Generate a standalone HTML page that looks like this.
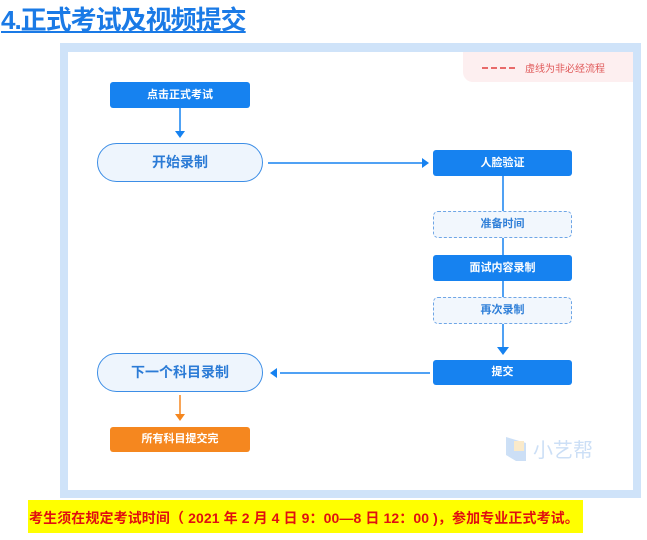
<!DOCTYPE html>
<html><head><meta charset="utf-8"><style>
*{margin:0;padding:0;box-sizing:border-box}
body{width:647px;height:540px;background:#fff;position:relative;overflow:hidden;font-family:"Liberation Sans","Noto Sans CJK SC",sans-serif}
.a{position:absolute}
.title{left:1px;top:4px;font-size:26px;font-weight:bold;color:#1a7ae6;letter-spacing:-1px;line-height:32px;text-decoration:underline;text-decoration-thickness:2px;text-underline-offset:2px}
.frame{left:60px;top:43px;width:581px;height:455px;background:#cfe3f9}
.inner{left:68px;top:52px;width:565px;height:438px;background:#fff}
.legend{left:463px;top:52px;width:170px;height:30px;background:#fdeff0;border-bottom-left-radius:10px}
.box{background:#1682f0;color:#fff;font-size:11px;font-weight:bold;text-align:center;border-radius:3px}
.dash{border:1.5px dashed #6fa6e6;background:#f2f7fd;color:#2f7fd8;font-size:11px;font-weight:bold;text-align:center;border-radius:5px}
.pill{border:1.5px solid #3d8ee6;background:#eef5fd;color:#2b7bd6;font-size:14px;font-weight:bold;text-align:center;border-radius:20px}
</style></head><body>
<div class="a title">4.正式考试及视频提交</div>
<div class="a frame"></div>
<div class="a inner"></div>
<div class="a legend"></div>
<div class="a" style="left:482px;top:67px;width:33px;border-top:2px dashed #e86a6a"></div>
<div class="a" style="left:525px;top:60px;font-size:10px;color:#e05a5a">虚线为非必经流程</div>

<svg class="a" style="left:0;top:0" width="647" height="540">
<g stroke="#1682f0" stroke-width="1.5" fill="none">
<line x1="180" y1="108" x2="180" y2="132"/>
<line x1="268" y1="163" x2="422" y2="163"/>
<line x1="503" y1="176" x2="503" y2="350"/>
<line x1="430" y1="373" x2="280" y2="373"/>
</g>
<g fill="#1682f0">
<polygon points="175,131 185,131 180,138"/>
<polygon points="422,158 422,168 429,163"/>
<polygon points="497,347 509,347 503,355"/>
<polygon points="277,368 277,378 270,373"/>
</g>
<line x1="180" y1="395" x2="180" y2="414" stroke="#f5871f" stroke-width="1.5"/>
<polygon points="175,414 185,414 180,421" fill="#f5871f"/>
<g opacity="0.35">
<path d="M506,437 v18 l10,6 h10 v-18 z" fill="#6fa6e6"/>
<rect x="514" y="441" width="10" height="10" fill="#f2c46a"/>
<text x="533" y="457" font-size="20" fill="#6fa6e6" font-family="Liberation Sans, Noto Sans CJK SC, sans-serif">小艺帮</text>
</g>
</svg>

<div class="a box" style="left:110px;top:82px;width:140px;height:26px;line-height:26px">点击正式考试</div>
<div class="a pill" style="left:97px;top:143px;width:166px;height:39px;line-height:36px">开始录制</div>
<div class="a box" style="left:433px;top:150px;width:139px;height:26px;line-height:26px">人脸验证</div>
<div class="a dash" style="left:433px;top:211px;width:139px;height:27px;line-height:24px">准备时间</div>
<div class="a box" style="left:433px;top:255px;width:139px;height:26px;line-height:26px">面试内容录制</div>
<div class="a dash" style="left:433px;top:297px;width:139px;height:27px;line-height:24px">再次录制</div>
<div class="a box" style="left:433px;top:360px;width:139px;height:25px;line-height:25px">提交</div>
<div class="a pill" style="left:97px;top:353px;width:166px;height:39px;line-height:36px">下一个科目录制</div>
<div class="a box" style="left:110px;top:427px;width:140px;height:25px;line-height:25px;background:#f5871f">所有科目提交完</div>

<div class="a" style="left:28px;top:500px;width:555px;height:33px;background:#ffff00"></div>
<div class="a" style="left:29px;top:508px;font-size:14px;font-weight:bold;color:#e01010;white-space:nowrap;letter-spacing:0.1px">考生须在规定考试时间（ 2021 年 2 月 4 日 9：00—8 日 12：00 )，参加专业正式考试。</div>
</body></html>
